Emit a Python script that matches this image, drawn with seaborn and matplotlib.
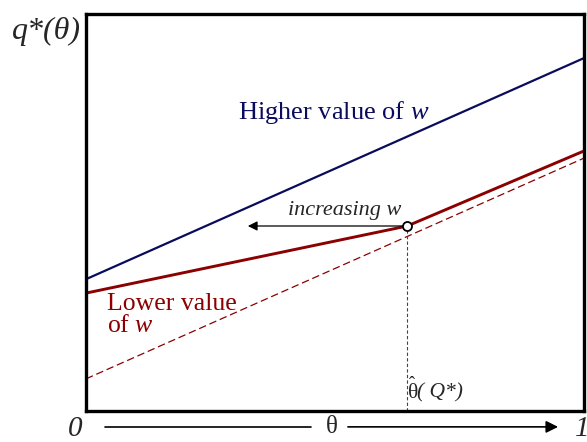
import matplotlib
matplotlib.use("Agg")
import matplotlib.pyplot as plt
import seaborn as sns

# Optimal quality schedule q*(theta) for two values of w
theta_high = [0.0, 1.0]
q_high = [0.332, 0.889]

theta_low = [0.0, 0.645, 1.0]
q_low = [0.297, 0.466, 0.655]

theta_ref = [0.0, 1.0]
q_ref = [0.081, 0.637]

theta_hat = 0.645
q_hat = 0.466
arrow_end = 0.325

sns.set_style("white")
plt.rcParams["font.family"] = ["Liberation Serif", "DejaVu Serif"]
plt.rcParams["mathtext.fontset"] = "custom"
plt.rcParams["mathtext.rm"] = "Liberation Serif"
plt.rcParams["mathtext.it"] = "Liberation Serif:italic"

NAVY = "#0b0b5e"
DARKRED = "#8b0000"

fig = plt.figure(figsize=(5.87, 4.42), dpi=100)
ax = fig.add_axes([86 / 587, 31 / 442, 498 / 587, 397 / 442])

sns.lineplot(x=theta_high, y=q_high, ax=ax, color=NAVY, lw=1.6)
sns.lineplot(x=theta_low, y=q_low, ax=ax, color=DARKRED, lw=2.1)
sns.lineplot(x=theta_ref, y=q_ref, ax=ax, color=DARKRED, lw=0.9,
             linestyle=(0, (6, 3)))

# threshold type and the shift as w rises
ax.plot([theta_hat, theta_hat], [0, q_hat], color="#444444", lw=0.8,
        linestyle=(0, (3, 2)))
ax.annotate("", xy=(arrow_end, q_hat), xytext=(theta_hat, q_hat),
            arrowprops=dict(arrowstyle="-|>", color="black", lw=0.9,
                            mutation_scale=14, shrinkB=0, shrinkA=0))
ax.plot([theta_hat], [q_hat], marker="o", ms=6.5, mfc="white",
        mec="black", mew=1.3, zorder=5)

ax.text(0.519, 0.505, "increasing w", style="italic", fontsize=16,
        ha="center", va="center")
ax.text(0.498, 0.752, "Higher value of $w$", color=NAVY, fontsize=19,
        ha="center", va="center")
ax.text(0.042, 0.298, "Lower value\nof $w$", color=DARKRED, fontsize=18.5,
        ha="left", va="top", linespacing=1.0)
ax.text(theta_hat + 0.001, 0.045, "θ", fontsize=15.5, ha="left",
        va="center")
ax.text(theta_hat + 0.0025, 0.068, "ˆ", fontsize=13, ha="left",
        va="center")
ax.text(theta_hat + 0.020, 0.045, "( Q*)", fontsize=15.5, style="italic",
        ha="left", va="center")

ax.set_xlim(0, 1)
ax.set_ylim(0, 1)
ax.set_xticks([])
ax.set_yticks([])
ax.set_xlabel("")
ax.set_ylabel("")
for s in ax.spines.values():
    s.set_visible(True)
    s.set_color("black")
    s.set_linewidth(2.4)

# theta axis drawn beneath the frame
yb = -0.040
ax.plot([0.038, 0.452], [yb, yb], color="black", lw=1.2, clip_on=False)
ax.annotate("", xy=(0.948, yb), xytext=(0.526, yb), xycoords="axes fraction",
            annotation_clip=False,
            arrowprops=dict(arrowstyle="-|>", color="black", lw=1.2,
                            mutation_scale=18, shrinkA=0, shrinkB=0))
ax.text(0.493, yb, "θ", fontsize=18, ha="center", va="center",
        transform=ax.transAxes, clip_on=False)
ax.text(-0.021, yb - 0.006, "0", fontsize=21, style="italic", ha="center",
        va="center", transform=ax.transAxes, clip_on=False)
ax.text(0.997, yb - 0.006, "1", fontsize=21, style="italic", ha="center",
        va="center", transform=ax.transAxes, clip_on=False)

fig.text(81 / 587, (442 - 31) / 442, "q*(θ)", fontsize=23, style="italic",
         ha="right", va="center")

fig.savefig("out.png", dpi=100)
